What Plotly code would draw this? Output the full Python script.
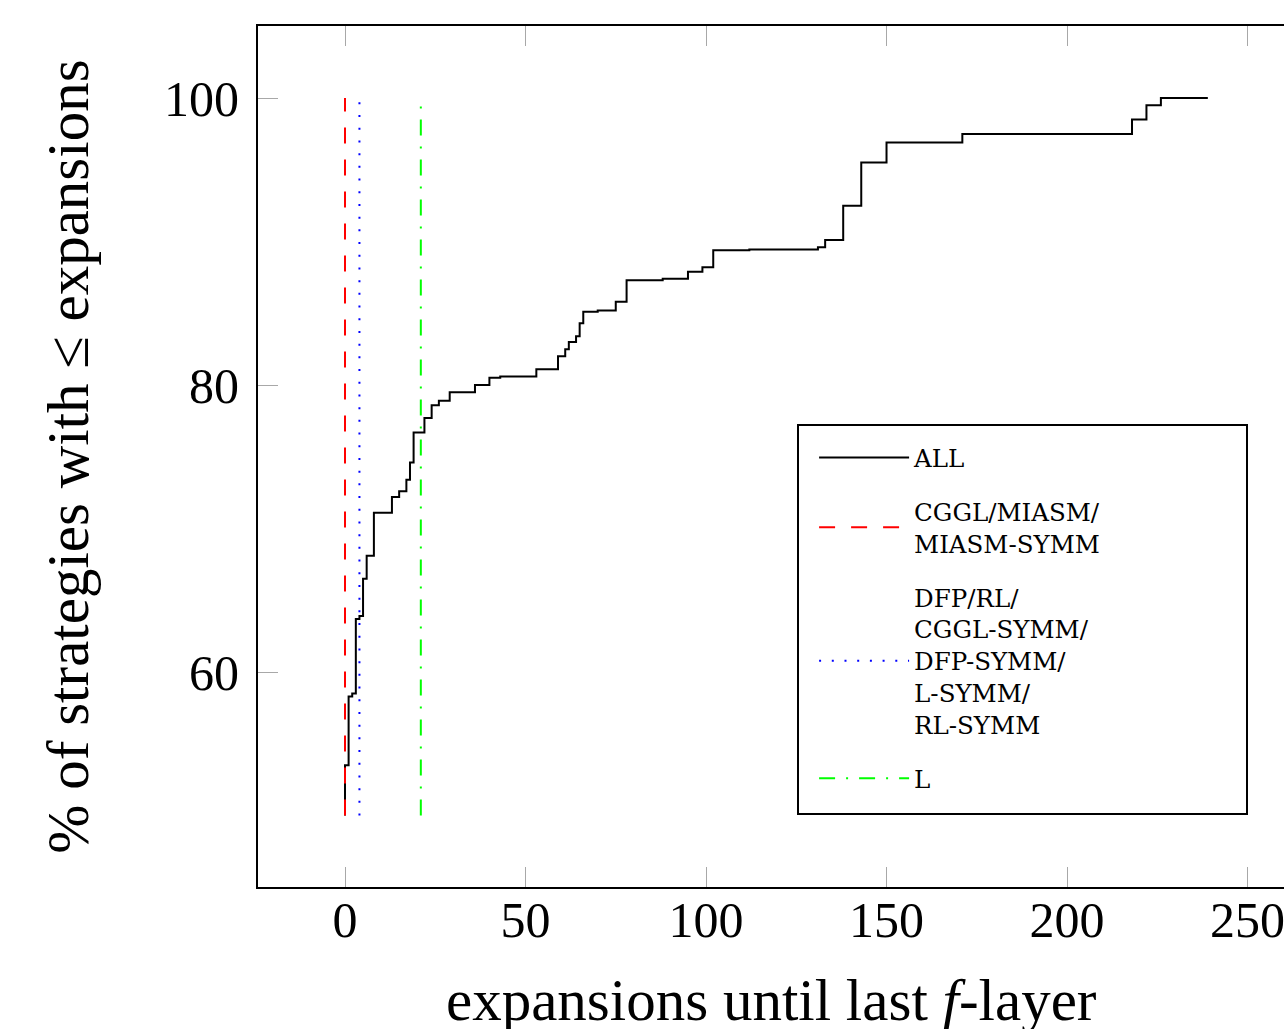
import plotly.graph_objects as go

# Data
all_x = [0, 0, 1, 2, 3, 4, 5, 6, 8, 13, 15, 17, 18, 19, 22, 24, 26, 29, 36, 40,
         43, 53, 59, 61, 62, 64, 65, 66, 70, 75, 78, 88, 95, 99, 102, 112, 131, 133, 138, 143,
         150, 171, 218, 222, 226, 239]
all_y = [50, 53.5, 58.3, 58.5, 63.7, 63.9, 66.5, 68.1, 71.1, 72.2, 72.6, 73.4, 74.6, 76.7, 77.7, 78.6, 78.9, 79.5, 80.0, 80.5,
         80.6, 81.1, 82.0, 82.5, 83.0, 83.4, 84.3, 85.1, 85.2, 85.8, 87.3, 87.4, 87.9, 88.2, 89.4, 89.45, 89.6, 90.1, 92.5, 95.5,
         96.9, 97.5, 98.5, 99.5, 100, 100]

cggl_x = [0, 0]
cggl_y = [50, 100]
dfp_x = [4, 4]
dfp_y = [50, 100]
l_x = [21, 21]
l_y = [50, 100]

names = ["ALL", "CGGL/MIASM/<br>MIASM-SYMM",
         "DFP/RL/<br>CGGL-SYMM/<br>DFP-SYMM/<br>L-SYMM/<br>RL-SYMM", "L"]

x_ticks = [0, 50, 100, 150, 200, 250]
y_ticks = [60, 80, 100]
x_title = "expansions until last <i>f</i>-layer"
y_title = "% of strategies with ≤ expansions"

FONT = "Liberation Serif"
LEGFONT = "DejaVu Serif"

fig = go.Figure()
fig.add_trace(go.Scatter(x=all_x, y=all_y, mode="lines", line=dict(color="black", width=2, shape="hv"),
                         name=names[0], legendgroup="a"))
fig.add_trace(go.Scatter(x=cggl_x, y=cggl_y, mode="lines", line=dict(color="#ff0000", width=2, dash="16px,16px"),
                         name=names[1], legendgroup="b"))
fig.add_trace(go.Scatter(x=dfp_x, y=dfp_y, mode="lines", line=dict(color="#0000ff", width=2, dash="2px,10.7px"),
                         name=names[2], legendgroup="c"))
fig.add_trace(go.Scatter(x=l_x, y=l_y, mode="lines", line=dict(color="#00ff00", width=2, dash="16px,11px,2px,11px"),
                         name=names[3], legendgroup="d"))

fig.update_layout(
    width=1284, height=1029,
    margin=dict(l=258, r=0, t=26, b=142, autoexpand=False),
    paper_bgcolor="white", plot_bgcolor="white",
    font=dict(family=FONT, color="black"),
    showlegend=True,
    legend=dict(x=0.542, y=0.525, xanchor="left", yanchor="top",
                bgcolor="rgba(0,0,0,0)", borderwidth=0,
                font=dict(family=LEGFONT, size=24.5, color="black"),
                itemwidth=90, tracegroupgap=19, traceorder="grouped"),
    xaxis=dict(range=[-24.1, 260.1], tickvals=x_ticks, ticks="inside", ticklen=20,
               tickcolor="#a8a8a8", tickwidth=1, showgrid=False, zeroline=False,
               showline=True, linecolor="black", linewidth=2, mirror="ticks",
               tickfont=dict(family=FONT, size=50), ticklabelstandoff=-12,
               ticklabeloverflow="allow"),
    yaxis=dict(range=[45.02, 105.02], tickvals=y_ticks, ticks="inside", ticklen=20,
               tickcolor="#a8a8a8", tickwidth=1, showgrid=False, zeroline=False,
               showline=True, linecolor="black", linewidth=2,
               tickfont=dict(family=FONT, size=50), ticklabelstandoff=7,
               ticklabeloverflow="allow",
               title=dict(text=y_title, font=dict(family=FONT, size=59), standoff=56)),
    yaxis2=dict(range=[45.02, 105.02], tickvals=y_ticks, ticks="inside", ticklen=12,
                tickcolor="#a8a8a8", tickwidth=1, showgrid=False, zeroline=False,
                showline=False, showticklabels=False, overlaying="y", side="right"),
    shapes=[dict(type="rect", xref="paper", yref="paper",
                 x0=(798 - 258) / 1026, x1=(1247 - 258) / 1026,
                 y0=(887 - 814) / 861, y1=(887 - 425) / 861,
                 line=dict(color="black", width=2), fillcolor="white", layer="above")],
    annotations=[dict(text=x_title, xref="paper", yref="paper", x=0.5, y=(887 - 965) / 861,
                      xanchor="center", yanchor="top", showarrow=False,
                      font=dict(family=FONT, size=59, color="black"))],
)

fig.write_html("out.html", config={"displayModeBar": False},
               post_script="document.body.style.margin='0';document.body.style.padding='0';"
                           "document.body.style.overflow='hidden';")
